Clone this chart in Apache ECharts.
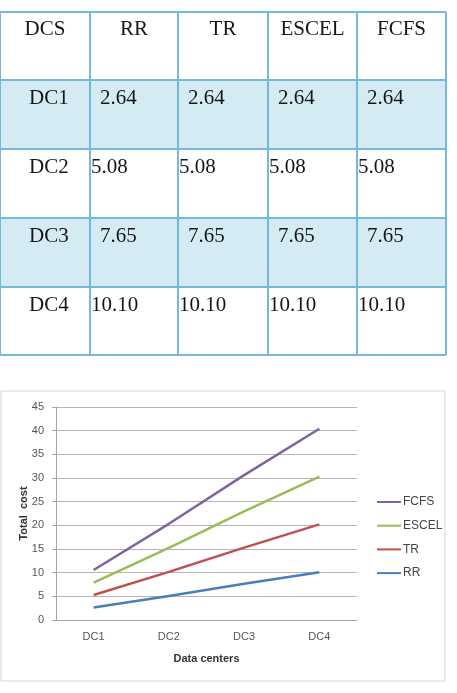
<!DOCTYPE html>
<html>
<head>
<meta charset="utf-8">
<script src="https://cdn.jsdelivr.net/npm/echarts@6/dist/echarts.min.js"></script>
<style>
  html, body { margin: 0; padding: 0; background: #fff; }
  #main { width: 457px; height: 693px; }
</style>
</head>
<body>
<div id="main"></div>
<script>
// data
const tableHeader = ['DCS', 'RR', 'TR', 'ESCEL', 'FCFS'];
const centers = ['DC1', 'DC2', 'DC3', 'DC4'];
const rrCost = [2.64, 5.08, 7.65, 10.10];
const trCost = [2.64, 5.08, 7.65, 10.10];
const escelCost = [2.64, 5.08, 7.65, 10.10];
const fcfsCost = [2.64, 5.08, 7.65, 10.10];
const yTicks = [0, 5, 10, 15, 20, 25, 30, 35, 40, 45];

var myChart = echarts.init(document.getElementById('main'));

// table drawn with graphic elements
const colX = [0, 90, 178, 268, 357, 446];
const rowY = [12, 80, 149, 218, 287, 355];
const border = '#74b9d5';
const serif = '"Liberation Serif", "DejaVu Serif", serif';
var g = [];
for (let r = 1; r < rowY.length - 1; r += 2) {
    g.push({
        type: 'rect', silent: true,
        shape: { x: colX[0], y: rowY[r], width: colX[5] - colX[0], height: rowY[r + 1] - rowY[r] },
        style: { fill: '#d5ebf4' }
    });
}
colX.forEach(function (x) {
    g.push({ type: 'line', silent: true, shape: { x1: x, y1: rowY[0], x2: x, y2: rowY[5] },
        style: { stroke: border, lineWidth: 2 } });
});
rowY.forEach(function (y) {
    g.push({ type: 'line', silent: true, shape: { x1: colX[0], y1: y, x2: colX[5], y2: y },
        style: { stroke: border, lineWidth: 2 } });
});
tableHeader.forEach(function (h, c) {
    g.push({ type: 'text', silent: true, x: (colX[c] + colX[c + 1]) / 2, y: rowY[0] + 17,
        style: { text: h, font: '21px ' + serif, fill: '#161616', align: 'center', verticalAlign: 'middle' } });
});
const cols = [rrCost, trCost, escelCost, fcfsCost];
centers.forEach(function (dc, r) {
    const y = rowY[r + 1] + 18;
    g.push({ type: 'text', silent: true, x: 29, y: y,
        style: { text: dc, font: '21px ' + serif, fill: '#161616', align: 'left', verticalAlign: 'middle' } });
    const off = r % 2 === 0 ? 10 : 1;
    cols.forEach(function (vals, c) {
        g.push({ type: 'text', silent: true, x: colX[c + 1] + off, y: y,
            style: { text: vals[r].toFixed(2), font: '21px ' + serif, fill: '#161616', align: 'left', verticalAlign: 'middle' } });
    });
});
// chart frame
g.push({ type: 'rect', silent: true, shape: { x: 1, y: 391, width: 444, height: 290 },
    style: { fill: 'none', stroke: '#d4d4d4', lineWidth: 1 } });

const sans = '"Liberation Sans", Arial, sans-serif';
myChart.setOption({
    animation: false,
    graphic: g,
    grid: { left: 56, top: 407, width: 301, height: 213 },
    legend: {
        orient: 'vertical', left: 372, top: 490,
        data: ['FCFS', 'ESCEL', 'TR', 'RR'],
        icon: 'rect', itemWidth: 24, itemHeight: 2, itemGap: 9.7,
        textStyle: { fontFamily: sans, fontSize: 12, color: '#444', lineHeight: 14, padding: [0, 0, 0, -3] }
    },
    xAxis: {
        type: 'category', data: centers, boundaryGap: true,
        name: 'Data centers', nameLocation: 'middle', nameGap: 33, nameMoveOverlap: false,
        nameTextStyle: { fontFamily: sans, fontSize: 11, fontWeight: 'bold', color: '#333' },
        axisLine: { lineStyle: { color: '#a6a6a6' } },
        axisTick: { show: false },
        axisLabel: { fontFamily: sans, fontSize: 11, color: '#555', margin: 11 }
    },
    yAxis: {
        type: 'value', min: yTicks[0], max: yTicks[yTicks.length - 1], interval: 5,
        name: 'Total  cost', nameLocation: 'middle', nameGap: 27, nameMoveOverlap: false,
        nameTextStyle: { fontFamily: sans, fontSize: 11, fontWeight: 'bold', color: '#333' },
        axisLine: { show: true, lineStyle: { color: '#a6a6a6' } },
        axisTick: { show: true, length: 4, lineStyle: { color: '#a6a6a6' } },
        splitLine: { lineStyle: { color: '#b4b4b4' } },
        axisLabel: { fontFamily: sans, fontSize: 11, color: '#555', margin: 12 }
    },
    series: [
        { name: 'RR', type: 'line', stack: 'total', data: rrCost, showSymbol: false,
          itemStyle: { color: '#4a7ebb' }, lineStyle: { width: 2.5 } },
        { name: 'TR', type: 'line', stack: 'total', data: trCost, showSymbol: false,
          itemStyle: { color: '#c0504d' }, lineStyle: { width: 2.5 } },
        { name: 'ESCEL', type: 'line', stack: 'total', data: escelCost, showSymbol: false,
          itemStyle: { color: '#9bbb59' }, lineStyle: { width: 2.5 } },
        { name: 'FCFS', type: 'line', stack: 'total', data: fcfsCost, showSymbol: false,
          itemStyle: { color: '#8064a2' }, lineStyle: { width: 2.5 } }
    ]
});
</script>
</body>
</html>
